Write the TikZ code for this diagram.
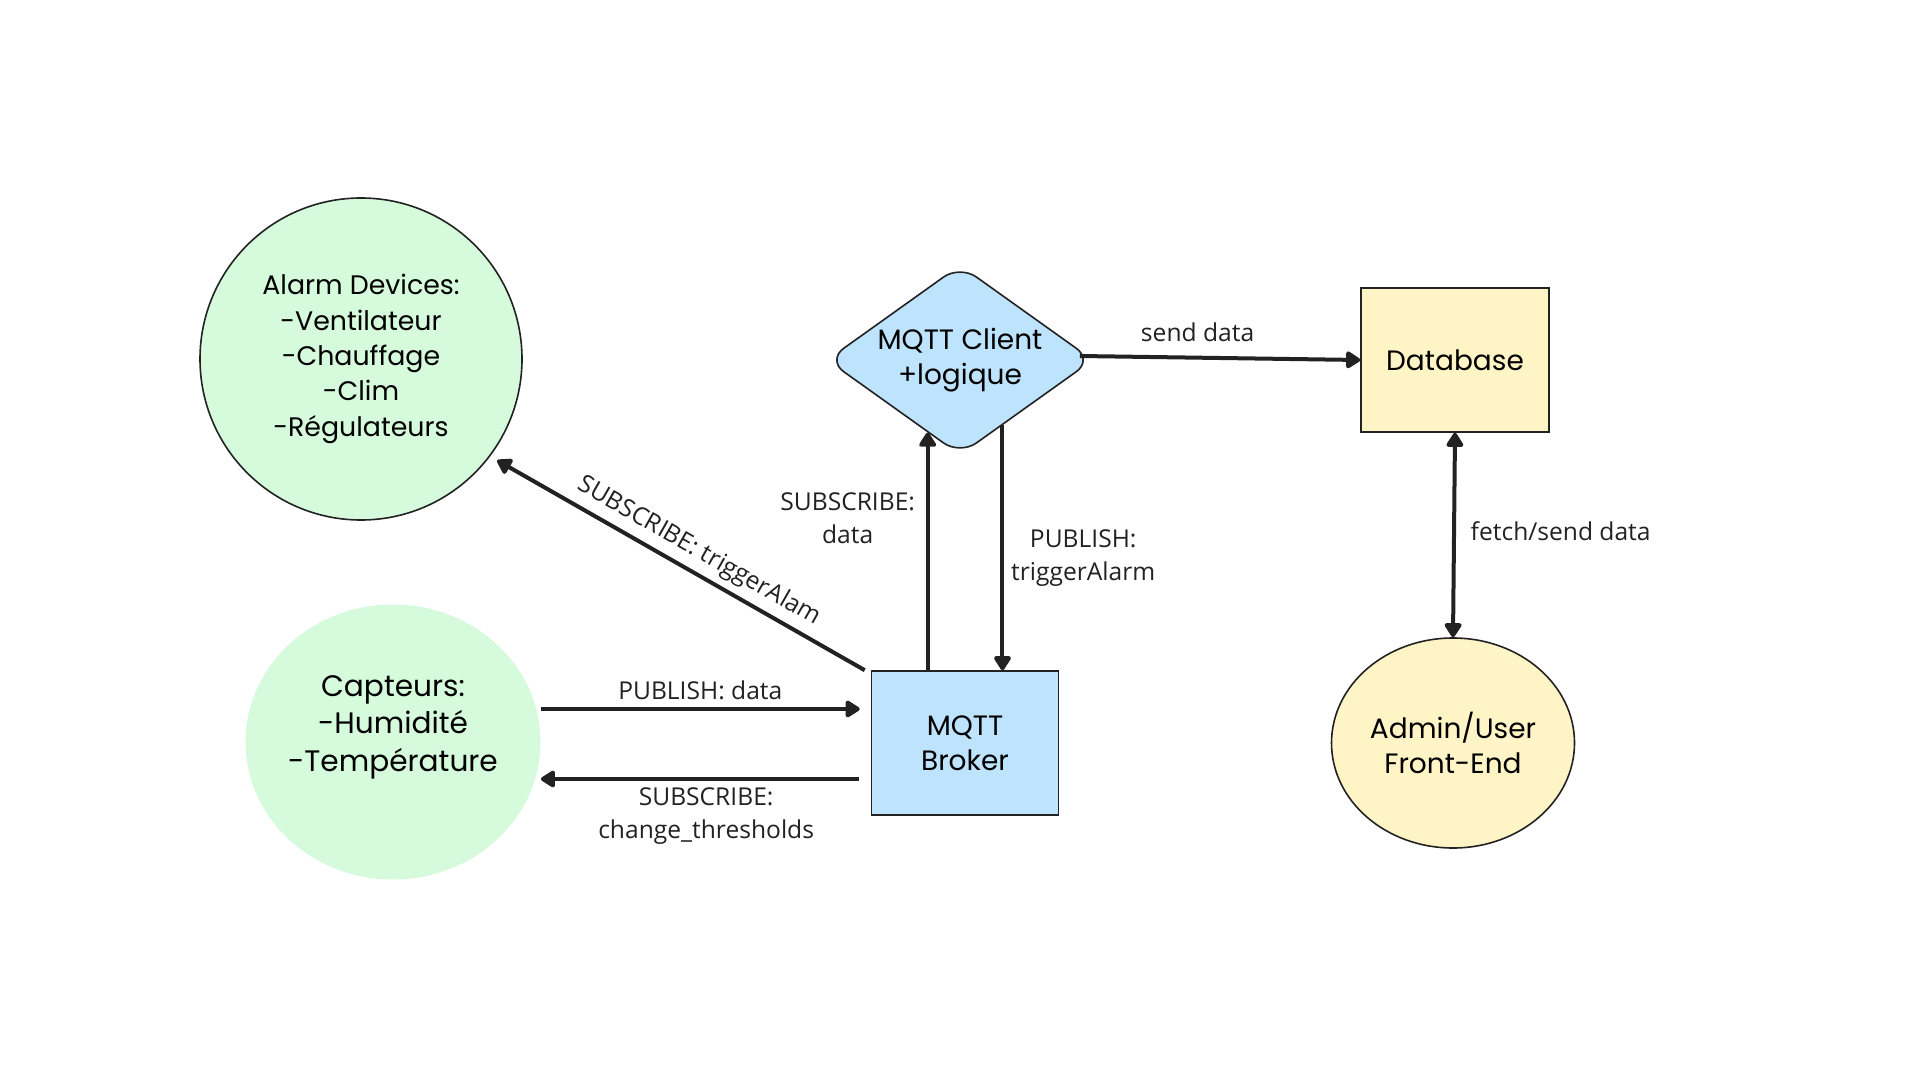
\documentclass[tikz,border=0pt]{standalone}
\usepackage{fontspec}
\setmainfont{Poppins}
\newfontfamily\edgefont{Open Sans}
\usetikzlibrary{shapes, arrows.meta, positioning, shapes.geometric}
\definecolor{devicegreen}{HTML}{D6FADC}
\definecolor{mqttblue}{HTML}{BEE3FC}
\definecolor{dbyellow}{HTML}{FFF4C5}
\definecolor{ink}{HTML}{222222}
\tikzstyle{line} = [draw=ink, line width=2pt, ->]

\begin{document}
\begin{tikzpicture}[x=0.5pt, y=-0.5pt,
          > = {Triangle[length=8pt, width=9.5pt, round]}, % arrow head style
          align = center,
          font = \fontsize{14}{17.75}\selectfont % text in the shapes
      ]

      \tikzstyle{round node}=[
          circle,
          draw = ink,
          line width = 0.8pt,
          fill = devicegreen,
          inner sep = 0pt
      ]
      \tikzstyle{rect node}=[
          rectangle,
          draw = ink,
          line width = 0.8pt,
          inner sep = 0pt
      ]
      \tikzstyle{edge text}=[
          font = \edgefont\fontsize{12.3}{16.5}\selectfont,
          text = ink
      ]

  \fill[white] (0, 0) rectangle (1920, 1080);
  \useasboundingbox (0, 0) rectangle (1920, 1080);

  % Draw the vertices.
  \node[round node, minimum size=161pt, font=\fontsize{13.4}{17.7}\selectfont] (alarm) at (361, 359)
      {Alarm Devices:\\-Ventilateur\\-Chauffage\\-Clim\\-Régulateurs};
  \node[ellipse, fill=devicegreen, inner sep=-8pt, minimum width=147.5pt, minimum height=137.5pt,
        font=\fontsize{14.8}{18.6}\selectfont] (capteurs) at (393, 742)
      {Capteurs:\\-Humidité\\-Température\\\mbox{}};

  \node[diamond, aspect=1.4, draw=ink, line width=0.8pt, fill=mqttblue, rounded corners=10pt,
        inner sep=-2pt, minimum width=133pt, minimum height=95pt] (client) at (960, 360)
      {MQTT Client\\+logique};
  \node[rect node, fill=mqttblue, minimum width=93.5pt, minimum height=72pt] (broker) at (965, 743)
      {MQTT\\Broker};

  \node[rect node, fill=dbyellow, minimum width=94pt, minimum height=72pt] (db) at (1455, 360)
      {Database};
  \node[ellipse, draw=ink, line width=0.8pt, fill=dbyellow, inner sep=0pt,
        minimum width=121.5pt, minimum height=105pt] (admin) at (1453, 743)
      {Admin/User\\Front-End};

  \coordinate (pub) at ([yshift=16.5pt]capteurs.east);
  \coordinate (sub) at ([yshift=-18.5pt]capteurs.east);

  % Connect vertices with edges and draw labels
  \draw[line] (pub) -- node[edge text, above] {PUBLISH: data} ([xshift=-5.5pt]pub -| broker.west);
  \draw[line] ([xshift=-6pt]sub -| broker.west) --
      node[edge text, below, pos=0.48] {SUBSCRIBE:\\change\_thresholds} (sub);

  \draw[line, shorten >=4pt] ([xshift=-3pt]broker.north west) --
      node[edge text, sloped, above, pos=0.47] {SUBSCRIBE: triggerAlam} (alarm.-37);

  \draw[line] (client.-114 |- broker.north) --
      node[edge text, left, pos=0.64, xshift=-2pt] {SUBSCRIBE:\\data} (client.-114);
  \draw[line] (client.-57) --
      node[edge text, right, pos=0.54] {PUBLISH:\\triggerAlarm} (client.-57 |- broker.north);

  \draw[line] ([xshift=-7pt, yshift=2pt]client.east) --
      node[edge text, above, pos=0.42, yshift=3.5pt] {send data} (db.west);
  \draw[line, <->] (db.south) --
      node[edge text, right, pos=0.48, xshift=4pt] {fetch/send data} (admin.north);
\end{tikzpicture}
\end{document}
